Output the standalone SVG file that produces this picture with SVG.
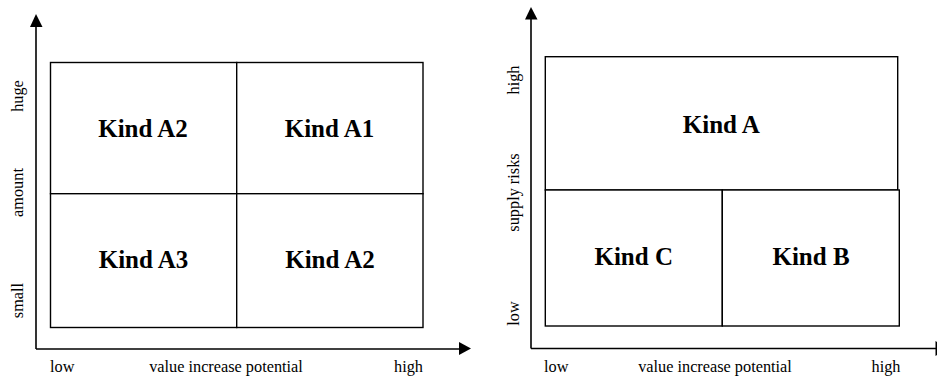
<svg xmlns="http://www.w3.org/2000/svg" width="937" height="376" viewBox="0 0 937 376">
<style>
.box{fill:#fff;stroke:#000;stroke-width:1.4}
.axis{stroke:#000;stroke-width:1.6;fill:none}
.head{fill:#000}
.kind{font-family:"Liberation Serif","Times New Roman",serif;font-weight:bold;font-size:25px;text-anchor:middle;fill:#000}
.lab{font-family:"Liberation Serif","Times New Roman",serif;font-size:16.3px;fill:#000}
.mid{text-anchor:middle}
</style>
<rect width="937" height="376" fill="#fff"/>
<g id="connectors">
<line class="axis" x1="36" y1="349" x2="36" y2="24"/>
<polygon class="head" points="36,14 30,27 42.5,27"/>
<line class="axis" x1="36" y1="349" x2="462" y2="349"/>
<polygon class="head" points="471,348.5 459,342 459,355"/>
<line class="axis" x1="531" y1="348.5" x2="531" y2="17"/>
<polygon class="head" points="531,7 525,19.5 537.5,19.5"/>
<line class="axis" x1="531" y1="348.5" x2="937" y2="348.5"/>
<polygon class="head" points="948,348.5 935.5,341 935.5,356"/>
</g>
<g id="left-chart">
<g id="nodeA2top"><rect class="box" x="50.5" y="62.5" width="186.2" height="131.2"/><text class="kind" x="143" y="137">Kind A2</text></g>
<g id="nodeA1"><rect class="box" x="236.7" y="62.5" width="186.3" height="131.2"/><text class="kind" x="329.5" y="137">Kind A1</text></g>
<g id="nodeA3"><rect class="box" x="50.5" y="193.7" width="186.2" height="133.8"/><text class="kind" x="143.5" y="268">Kind A3</text></g>
<g id="nodeA2bottom"><rect class="box" x="236.7" y="193.7" width="186.3" height="133.8"/><text class="kind" x="330" y="268">Kind A2</text></g>
<text class="lab" x="50" y="372">low</text>
<text class="lab mid" x="226" y="372">value increase potential</text>
<text class="lab" x="394" y="372">high</text>
<text class="lab mid" transform="translate(23.3,96) rotate(-90)">huge</text>
<text class="lab mid" transform="translate(23.3,192.5) rotate(-90)">amount</text>
<text class="lab mid" transform="translate(23.3,300.5) rotate(-90)">small</text>
</g>
<g id="right-chart">
<g id="nodeA"><rect class="box" x="545.3" y="56.7" width="352.4" height="133.3"/><text class="kind" x="721.3" y="132.7">Kind A</text></g>
<g id="nodeC"><rect class="box" x="545.3" y="190" width="177" height="136"/><text class="kind" x="633.7" y="265">Kind C</text></g>
<g id="nodeB"><rect class="box" x="722.3" y="190" width="177" height="136"/><text class="kind" x="811" y="265">Kind B</text></g>
<text class="lab" x="544" y="372">low</text>
<text class="lab mid" x="715" y="372">value increase potential</text>
<text class="lab" x="871.5" y="372">high</text>
<text class="lab mid" transform="translate(518.5,80) rotate(-90)">high</text>
<text class="lab mid" transform="translate(518.5,192.5) rotate(-90)">supply risks</text>
<text class="lab mid" transform="translate(518.5,313.5) rotate(-90)">low</text>
</g>
</svg>
